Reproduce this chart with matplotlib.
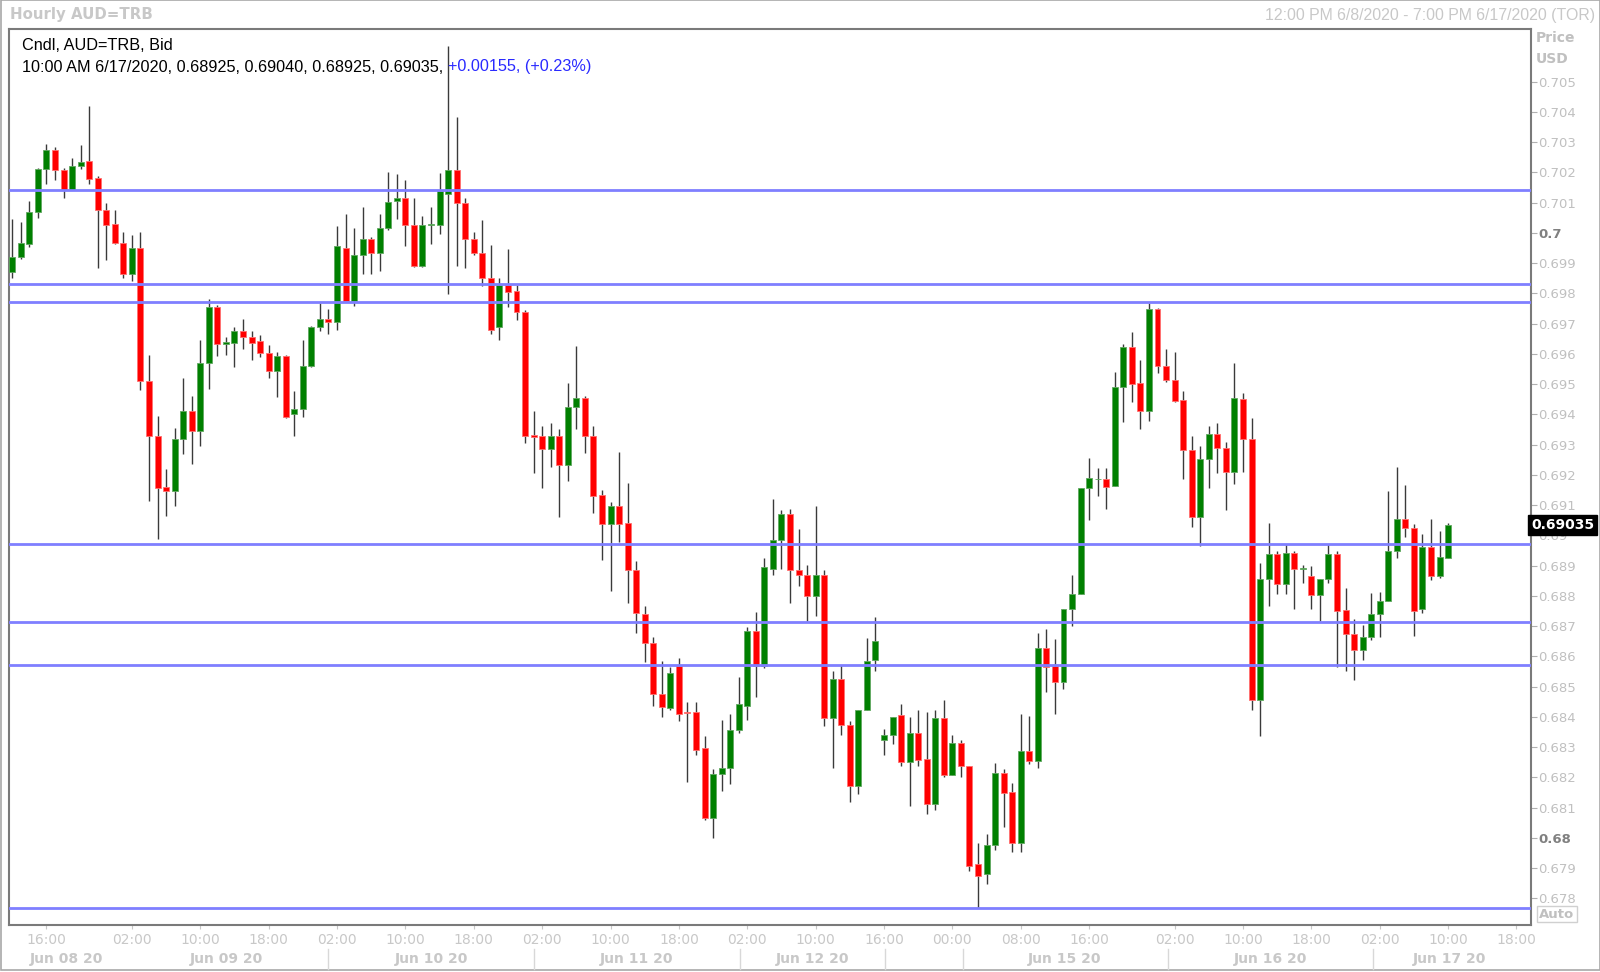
import matplotlib
matplotlib.use("Agg")
import matplotlib.pyplot as plt
from matplotlib.patches import Rectangle
from matplotlib.lines import Line2D
from matplotlib.transforms import blended_transform_factory
import numpy as np

# hourly OHLC, AUD=TRB bid, 12:00 PM 6/8/2020 .. 10:00 AM 6/17/2020
opens = [0.69869, 0.69919, 0.69962, 0.70069, 0.70211, 0.70274, 0.70206, 0.70143, 0.70220, 0.70239,
         0.70180, 0.70076, 0.70030, 0.69965, 0.69865, 0.69950, 0.69510, 0.69327, 0.69159, 0.69148,
         0.69318, 0.69410, 0.69344, 0.69569, 0.69756, 0.69632, 0.69636, 0.69675, 0.69656, 0.69642,
         0.69604, 0.69543, 0.69592, 0.69401, 0.69416, 0.69560, 0.69688, 0.69716, 0.69704, 0.69950,
         0.69775, 0.69925, 0.69980, 0.69934, 0.70017, 0.70106, 0.70115, 0.70026, 0.69891, 0.70026,
         0.70026, 0.70128, 0.70206, 0.70100, 0.69980, 0.69934, 0.69851, 0.69688, 0.69827, 0.69808,
         0.69739, 0.69333, 0.69327, 0.69284, 0.69329, 0.69231, 0.69425, 0.69453, 0.69329, 0.69133,
         0.69037, 0.69096, 0.69040, 0.68885, 0.68741, 0.68643, 0.68476, 0.68430, 0.68569, 0.68417,
         0.68417, 0.68297, 0.68067, 0.68211, 0.68230, 0.68356, 0.68435, 0.68685, 0.68569, 0.68889,
         0.68985, 0.69070, 0.68885, 0.68870, 0.68800, 0.68870, 0.68396, 0.68524, 0.68372, 0.68171,
         0.68424, 0.68589, 0.68324, 0.68339, 0.68406, 0.68250, 0.68347, 0.68261, 0.68111, 0.68396,
         0.68209, 0.68315, 0.68237, 0.67912, 0.67880, 0.67978, 0.68213, 0.68152, 0.67982, 0.68287,
         0.68254, 0.68626, 0.68569, 0.68515, 0.68755, 0.68805, 0.69157, 0.69185, 0.69185, 0.69162,
         0.69490, 0.69623, 0.69503, 0.69410, 0.69749, 0.69560, 0.69512, 0.69447, 0.69283, 0.69061,
         0.69253, 0.69336, 0.69290, 0.69209, 0.69451, 0.69318, 0.68457, 0.68855, 0.68937, 0.68839,
         0.68940, 0.68889, 0.68865, 0.68803, 0.68855, 0.68937, 0.68753, 0.68674, 0.68622, 0.68663,
         0.68741, 0.68784, 0.68947, 0.69055, 0.69024, 0.68757, 0.68960, 0.68866, 0.68925]
highs = [0.70045, 0.70036, 0.70106, 0.70215, 0.70295, 0.70285, 0.70215, 0.70246, 0.70289, 0.70420,
         0.70187, 0.70100, 0.70076, 0.70002, 0.69993, 0.70002, 0.69597, 0.69394, 0.69220, 0.69355,
         0.69521, 0.69460, 0.69647, 0.69780, 0.69760, 0.69656, 0.69690, 0.69716, 0.69675, 0.69662,
         0.69629, 0.69606, 0.69597, 0.69477, 0.69647, 0.69693, 0.69767, 0.69749, 0.70024, 0.70061,
         0.70017, 0.70086, 0.69986, 0.70061, 0.70202, 0.70193, 0.70174, 0.70115, 0.70054, 0.70086,
         0.70197, 0.70618, 0.70382, 0.70115, 0.70004, 0.70041, 0.69960, 0.69849, 0.69947, 0.69827,
         0.69745, 0.69412, 0.69360, 0.69370, 0.69351, 0.69503, 0.69625, 0.69462, 0.69360, 0.69151,
         0.69111, 0.69277, 0.69173, 0.68914, 0.68768, 0.68663, 0.68583, 0.68565, 0.68596, 0.68450,
         0.68450, 0.68337, 0.68226, 0.68389, 0.68410, 0.68532, 0.68698, 0.68746, 0.68926, 0.69120,
         0.69083, 0.69088, 0.69022, 0.68903, 0.69098, 0.68885, 0.68552, 0.68570, 0.68385, 0.68424,
         0.68660, 0.68729, 0.68361, 0.68400, 0.68441, 0.68400, 0.68422, 0.68415, 0.68422, 0.68456,
         0.68339, 0.68324, 0.68237, 0.67982, 0.68014, 0.68247, 0.68226, 0.68182, 0.68408, 0.68402,
         0.68678, 0.68692, 0.68657, 0.68755, 0.68870, 0.69157, 0.69255, 0.69222, 0.69222, 0.69540,
         0.69632, 0.69671, 0.69579, 0.69767, 0.69752, 0.69616, 0.69606, 0.69477, 0.69329, 0.69296,
         0.69360, 0.69370, 0.69309, 0.69571, 0.69471, 0.69388, 0.68907, 0.69042, 0.68948, 0.68972,
         0.68948, 0.68903, 0.68898, 0.68855, 0.68972, 0.68949, 0.68826, 0.68723, 0.68704, 0.68810,
         0.68814, 0.69147, 0.69226, 0.69166, 0.69037, 0.69004, 0.69055, 0.69013, 0.69040]
lows = [0.69851, 0.69915, 0.69952, 0.70050, 0.70161, 0.70174, 0.70115, 0.70140, 0.70211, 0.70161,
        0.69884, 0.69910, 0.69962, 0.69851, 0.69841, 0.69481, 0.69114, 0.68988, 0.69064, 0.69096,
        0.69268, 0.69235, 0.69296, 0.69484, 0.69592, 0.69595, 0.69555, 0.69617, 0.69579, 0.69588,
        0.69521, 0.69458, 0.69388, 0.69329, 0.69392, 0.69555, 0.69675, 0.69664, 0.69680, 0.69770,
        0.69758, 0.69864, 0.69864, 0.69875, 0.70008, 0.70045, 0.69956, 0.69888, 0.69888, 0.69962,
        0.69995, 0.69799, 0.69891, 0.69884, 0.69925, 0.69823, 0.69664, 0.69645, 0.69754, 0.69712,
        0.69305, 0.69207, 0.69155, 0.69225, 0.69061, 0.69181, 0.69351, 0.69273, 0.69074, 0.68920,
        0.68815, 0.68977, 0.68776, 0.68676, 0.68580, 0.68435, 0.68398, 0.68422, 0.68385, 0.68186,
        0.68274, 0.68060, 0.68000, 0.68154, 0.68178, 0.68347, 0.68389, 0.68467, 0.68560, 0.68870,
        0.68889, 0.68776, 0.68833, 0.68718, 0.68735, 0.68370, 0.68230, 0.68340, 0.68117, 0.68145,
        0.68424, 0.68550, 0.68273, 0.68311, 0.68237, 0.68106, 0.68237, 0.68078, 0.68093, 0.68200,
        0.68209, 0.68200, 0.67889, 0.67769, 0.67849, 0.67960, 0.68037, 0.67954, 0.67954, 0.68245,
        0.68230, 0.68482, 0.68408, 0.68491, 0.68700, 0.68805, 0.69050, 0.69129, 0.69088, 0.69162,
        0.69375, 0.69440, 0.69351, 0.69379, 0.69536, 0.69508, 0.69440, 0.69185, 0.69027, 0.68966,
        0.69157, 0.69207, 0.69083, 0.69170, 0.69209, 0.68422, 0.68337, 0.68768, 0.68805, 0.68805,
        0.68755, 0.68842, 0.68755, 0.68718, 0.68842, 0.68564, 0.68553, 0.68522, 0.68589, 0.68654,
        0.68663, 0.68784, 0.68925, 0.68993, 0.68666, 0.68742, 0.68852, 0.68859, 0.68925]
closes = [0.69919, 0.69967, 0.70069, 0.70211, 0.70274, 0.70206, 0.70143, 0.70220, 0.70235, 0.70178,
          0.70076, 0.70026, 0.69965, 0.69865, 0.69950, 0.69510, 0.69327, 0.69157, 0.69148, 0.69320,
          0.69410, 0.69344, 0.69569, 0.69756, 0.69632, 0.69638, 0.69675, 0.69654, 0.69636, 0.69604,
          0.69543, 0.69592, 0.69392, 0.69416, 0.69560, 0.69688, 0.69716, 0.69706, 0.69958, 0.69775,
          0.69925, 0.69980, 0.69934, 0.70017, 0.70102, 0.70115, 0.70026, 0.69891, 0.70026, 0.70028,
          0.70137, 0.70206, 0.70100, 0.69980, 0.69934, 0.69851, 0.69678, 0.69827, 0.69804, 0.69739,
          0.69329, 0.69325, 0.69284, 0.69329, 0.69231, 0.69425, 0.69453, 0.69329, 0.69129, 0.69037,
          0.69096, 0.69037, 0.68885, 0.68744, 0.68643, 0.68476, 0.68432, 0.68546, 0.68408, 0.68413,
          0.68289, 0.68067, 0.68211, 0.68230, 0.68356, 0.68441, 0.68685, 0.68569, 0.68896, 0.68985,
          0.69070, 0.68885, 0.68870, 0.68800, 0.68870, 0.68396, 0.68524, 0.68372, 0.68171, 0.68424,
          0.68583, 0.68650, 0.68339, 0.68400, 0.68250, 0.68347, 0.68256, 0.68111, 0.68396, 0.68209,
          0.68315, 0.68237, 0.67908, 0.67875, 0.67978, 0.68213, 0.68148, 0.67982, 0.68287, 0.68254,
          0.68626, 0.68565, 0.68515, 0.68755, 0.68805, 0.69157, 0.69190, 0.69185, 0.69161, 0.69490,
          0.69623, 0.69500, 0.69410, 0.69749, 0.69560, 0.69512, 0.69444, 0.69283, 0.69061, 0.69253,
          0.69336, 0.69290, 0.69209, 0.69453, 0.69318, 0.68457, 0.68855, 0.68937, 0.68839, 0.68940,
          0.68889, 0.68889, 0.68803, 0.68855, 0.68937, 0.68751, 0.68674, 0.68622, 0.68665, 0.68741,
          0.68784, 0.68949, 0.69055, 0.69024, 0.68751, 0.68960, 0.68866, 0.68929, 0.69035]

# horizontal support / resistance lines
levels = [0.70141, 0.69832, 0.69771, 0.68973, 0.68714, 0.68572, 0.67768]

# x axis labels (candle index where they sit)
time_pos = [4, 14, 22, 30, 38, 46, 54, 62, 70, 78, 86, 94, 102, 110, 118, 126, 136, 144, 152, 160, 168, 176]
time_labels = ['16:00', '02:00', '10:00', '18:00', '02:00', '10:00', '18:00', '02:00', '10:00', '18:00', '02:00',
               '10:00', '16:00', '00:00', '08:00', '16:00', '02:00', '10:00', '18:00', '02:00', '10:00', '18:00']
day_pos = [6.3, 25.1, 49.0, 73.1, 93.6, 123.1, 147.2, 168.2]
day_labels = ['Jun 08 20', 'Jun 09 20', 'Jun 10 20', 'Jun 11 20', 'Jun 12 20', 'Jun 15 20', 'Jun 16 20', 'Jun 17 20']
day_breaks = [37.0, 61.1, 85.1, 102.1, 111.2, 135.2, 159.2]

last_price = 0.69035
header1 = "Cndl, AUD=TRB, Bid"
header2 = "10:00 AM 6/17/2020, 0.68925, 0.69040, 0.68925, 0.69035, "
header3 = "+0.00155, (+0.23%)"

W, H = 1600, 972
fig = plt.figure(figsize=(W / 100, H / 100), dpi=100)
fig.patch.set_facecolor('white')

def fx(px):
    return px / W

def fy(py):
    return 1 - py / H

ax_l, ax_r, ax_t, ax_b = 9, 1531, 28.6, 925
ax = fig.add_axes([fx(ax_l), fy(ax_b), fx(ax_r - ax_l), (ax_b - ax_t) / H])

o = np.array(opens); c = np.array(closes); hi = np.array(highs); lo = np.array(lows)
x = np.arange(len(o))
up = c >= o
body_col = np.where(up, '#008000', '#ff0000')
edge_col = np.where(up, '#60a860', '#ff7070')

ax.vlines(x, lo, hi, color='#3a3a3a', lw=1.0, zorder=2)
ax.bar(x, np.maximum(np.abs(c - o), 0.000018), 0.7, bottom=np.minimum(o, c),
       color=body_col, edgecolor=edge_col, lw=0.6, zorder=3)

for lv in levels:
    ax.axhline(lv, color='#7f7fff', lw=2, zorder=4)

ax.set_xlim(-0.38, 177.7)
ax.set_ylim(0.67712, 0.70675)

# y axis on the right
yt = np.round(np.arange(0.678, 0.70551, 0.001), 3)
ax.yaxis.tick_right()
ax.set_yticks(yt)
ax.set_yticklabels(['%g' % v for v in yt])
ax.tick_params(axis='y', length=4, width=0.8, color='#b0b0b0', labelcolor='#c0c0c0',
               labelsize=9.5, pad=1)
for lbl in ax.get_yticklabels():
    if lbl.get_text() in ('0.7', '0.68'):
        lbl.set_fontweight('bold')
        lbl.set_color('#808080')

ax.set_xticks(time_pos)
ax.set_xticklabels(time_labels)
ax.tick_params(axis='x', length=3, width=0.8, color='#c8c8c8', labelcolor='#c8c8c8',
               labelsize=10, pad=3)

for s in ax.spines.values():
    s.set_color('#7a7a7a')
    s.set_linewidth(1.5)

# date row under the time labels
bt = blended_transform_factory(ax.transData, fig.transFigure)
for p, lab in zip(day_pos, day_labels):
    fig.text(p, fy(959), lab, transform=bt, ha='center', va='center',
             fontsize=10, fontweight='bold', color='#c8c8c8')
for p in day_breaks:
    fig.add_artist(Line2D([p, p], [fy(949), fy(969)], transform=bt, color='#d8d8d8', lw=1))

# window frame and title strip
fig.add_artist(Rectangle((fx(0.5), fy(970)), fx(1599), (970 - 0.5) / H, transform=fig.transFigure,
                         fill=False, edgecolor='#a8a8a8', lw=1.2))
fig.text(fx(10), fy(15), "Hourly AUD=TRB", ha='left', va='center', fontsize=10.8,
         fontweight='bold', color='#c8c8c8')
fig.text(fx(1595), fy(15.5), "12:00 PM 6/8/2020 - 7:00 PM 6/17/2020 (TOR)", ha='right',
         va='center', fontsize=11.4, family='Liberation Sans', color='#c8c8c8')

fig.text(fx(1536), fy(38), "Price", ha='left', va='center', fontsize=10,
         fontweight='bold', color='#c0c0c0')
fig.text(fx(1536), fy(59), "USD", ha='left', va='center', fontsize=10,
         fontweight='bold', color='#c0c0c0')
fig.text(fx(1557), fy(914), "Auto", ha='center', va='center', fontsize=9.5, fontweight='bold',
         color='#c0c0c0', bbox=dict(boxstyle='square,pad=0.15', fc='white', ec='#d0d0d0', lw=1))

# last price tag
pt = blended_transform_factory(ax.transAxes, ax.transData)
ax.text(1.0, last_price, "0.69035", transform=pt, ha='left', va='center', fontsize=10,
        fontweight='bold', color='white', clip_on=False, zorder=10,
        bbox=dict(boxstyle='square,pad=0.2', fc='black', ec='black'))

# header inside the plot
fig.text(fx(22), fy(46), header1, ha='left', va='center', fontsize=11.7,
         family='Liberation Sans', color='black')
t2 = fig.text(fx(22), fy(67), header2, ha='left', va='center', fontsize=11.7,
              family='Liberation Sans', color='black')
fig.canvas.draw()
bb = t2.get_window_extent()
fig.text(bb.x1 / W, fy(67), header3, ha='left', va='center', fontsize=11.7,
         family='Liberation Sans', color='#2a2aff')

fig.savefig('out.png', dpi=100, facecolor='white')
